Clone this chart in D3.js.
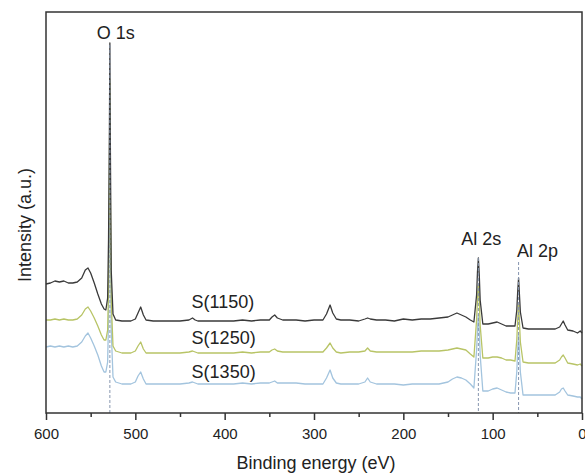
<!DOCTYPE html>
<html>
<head>
<meta charset="utf-8">
<script src="https://cdn.jsdelivr.net/npm/d3@7"></script>
<style>
  body { margin: 0; background: #fff; }
  svg text { font-family: "Liberation Sans", Arial, sans-serif; fill: #222; }
</style>
</head>
<body>
<div class="container"></div>
<script>
// binding energy grid (eV), shared by the three spectra
var energy = [600,595,590,585,580,575,570,565,560,556,
  553,550,546,542,538,535,533,531,530,529,
  528.5,528,527,525,522,515,505,500,497,494,
  491,488,480,470,460,450,440,436,433,430,
  420,410,400,390,380,370,360,350,347,344,
  341,335,320,310,300,290,286,282,279,275,
  270,260,250,243,240,237,230,220,210,200,
  190,180,170,160,150,145,140,135,130,125,
  121,118,117,116,115,114,111,105,100,95,
  90,85,80,75,73,72,71,70,69,66,
  60,50,40,30,25,23,21,19,16,10,5,2,0];

// intensity (a.u.), offset spectra
var s1150 = [129,130,132,131,132,130,130,131,135,143,
  145,140,130,119,109,104,103,115,173,283,
  370,273,143,99,93,92,92,94,100,106,
  98,93,92,92,92,92,93,95,93,92,
  92,92,92,92,93,92,93,93,96,98,
  95,93,93,92,93,93,99,108,100,94,
  93,93,92,94,95,94,93,93,92,94,
  93,94,94,95,96,98,100,98,96,93,
  91,118,141,155,138,113,89,89,90,91,
  89,87,87,87,103,121,135,118,101,85,
  84,84,84,84,86,89,92,88,83,82,80,82,80];

var s1250 = [93,93,94,93,94,93,93,94,98,104,
  106,102,95,87,78,73,73,83,123,233,
  333,223,113,67,62,60,60,62,67,71,
  64,60,60,60,60,60,61,62,61,60,
  60,60,60,60,61,60,61,61,63,64,
  62,61,61,61,61,61,65,70,65,61,
  60,61,61,62,65,62,61,61,61,61,
  61,62,62,62,63,64,65,64,63,59,
  56,93,113,128,113,88,55,55,56,56,
  55,53,53,52,73,93,108,91,71,51,
  50,50,50,50,53,56,58,55,50,49,48,49,47];

var s1350 = [66,67,66,67,66,67,66,67,71,77,
  80,75,67,58,47,41,41,51,93,203,
  303,193,83,36,31,29,29,31,37,41,
  34,29,29,29,29,29,30,31,30,29,
  29,29,29,29,30,29,30,30,31,32,
  30,30,30,29,29,29,35,43,35,30,
  29,29,29,31,35,31,29,29,29,28,
  29,29,29,29,31,34,36,35,33,29,
  25,63,83,98,83,58,22,22,24,25,
  23,21,20,20,41,63,78,61,41,18,
  18,18,18,18,21,24,25,22,18,17,16,16,14];

var seriesNames = ["S(1150)", "S(1250)", "S(1350)"];

// assigned peaks
var peakEnergy = [528.5, 116, 71];
var peakLabel = ["O 1s", "Al 2s", "Al 2p"];
var peakTop = [368, 155, 151];

var xTicks = [600, 500, 400, 300, 200, 100, 0];
var xMinorTicks = [550, 450, 350, 250, 150, 50];

const WIDTH = 585, HEIGHT = 474;
const M = {left: 46, top: 12, right: 3, bottom: 61};

var svg = d3.select('.container').append('svg')
  .attr('width', WIDTH)
  .attr('height', HEIGHT);

var xScale = d3.scaleLinear().domain([600, 0]).range([M.left, WIDTH - M.right]);
var yScale = d3.scaleLinear().domain([0, 401]).range([HEIGHT - M.bottom, M.top]);

var colors = ["#3a3a3a", "#b8c466", "#a3c4de"];
var series = [s1150, s1250, s1350];

var line = d3.line()
  .x(function(d){ return xScale(d[0]); })
  .y(function(d){ return yScale(d[1]); });

// draw blue first, black on top
[2, 1, 0].forEach(function(k){
  var pts = energy.map(function(e, i){ return [e, series[k][i]]; });
  svg.append('path')
    .datum(pts)
    .attr('d', line)
    .attr('fill', 'none')
    .attr('stroke', colors[k])
    .attr('stroke-width', 1.3)
    .attr('stroke-linejoin', 'round');
});

// dashed peak markers
svg.selectAll('line.peak')
  .data(peakEnergy)
  .enter().append('line')
  .attr('class', 'peak')
  .attr('x1', function(d){ return xScale(d); })
  .attr('x2', function(d){ return xScale(d); })
  .attr('y1', function(d, i){ return yScale(peakTop[i]); })
  .attr('y2', yScale(0))
  .attr('stroke', '#8796b0')
  .attr('stroke-width', 1)
  .attr('stroke-dasharray', '3,2');

// label offsets (px) relative to peak top
var labelDx = [6, 3, 19];
var labelDy = [-6, -13, -5];
svg.selectAll('text.peak')
  .data(peakLabel)
  .enter().append('text')
  .attr('class', 'peak')
  .attr('x', function(d, i){ return xScale(peakEnergy[i]) + labelDx[i]; })
  .attr('y', function(d, i){ return yScale(peakTop[i]) + labelDy[i]; })
  .attr('text-anchor', 'middle')
  .style('font-size', '18px')
  .text(function(d){ return d; });

// sample names above each spectrum
var nameAt = 437;
var nameIdx = energy.indexOf(436);
var nameDy = [-10, -7, -4];
svg.selectAll('text.name')
  .data(seriesNames)
  .enter().append('text')
  .attr('class', 'name')
  .attr('x', xScale(nameAt))
  .attr('y', function(d, i){ return yScale(series[i][nameIdx]) + nameDy[i]; })
  .style('font-size', '18px')
  .text(function(d){ return d; });

// frame
svg.append('rect')
  .attr('x', M.left).attr('y', M.top)
  .attr('width', WIDTH - M.right - M.left)
  .attr('height', HEIGHT - M.bottom - M.top)
  .attr('fill', 'none')
  .attr('stroke', '#333')
  .attr('stroke-width', 1.5);

var xAxis = d3.axisBottom(xScale).tickValues(xTicks).tickSize(7).tickPadding(8).tickFormat(d3.format('d'));
var gx = svg.append('g')
  .attr('transform', 'translate(0,' + (HEIGHT - M.bottom) + ')')
  .call(xAxis);
gx.select('.domain').remove();
gx.selectAll('line').attr('stroke', '#333').attr('stroke-width', 1.5);
gx.selectAll('text').style('font-size', '15px').attr('fill', '#222');

var gxm = svg.append('g')
  .attr('transform', 'translate(0,' + (HEIGHT - M.bottom) + ')')
  .call(d3.axisBottom(xScale).tickValues(xMinorTicks).tickSize(4).tickFormat(''));
gxm.select('.domain').remove();
gxm.selectAll('line').attr('stroke', '#333').attr('stroke-width', 1.5);

svg.append('text')
  .attr('x', 316)
  .attr('y', 469)
  .attr('text-anchor', 'middle')
  .style('font-size', '18px')
  .text('Binding energy (eV)');

svg.append('text')
  .attr('transform', 'translate(31,225) rotate(-90)')
  .attr('text-anchor', 'middle')
  .style('font-size', '18px')
  .text('Intensity (a.u.)');
</script>
</body>
</html>
